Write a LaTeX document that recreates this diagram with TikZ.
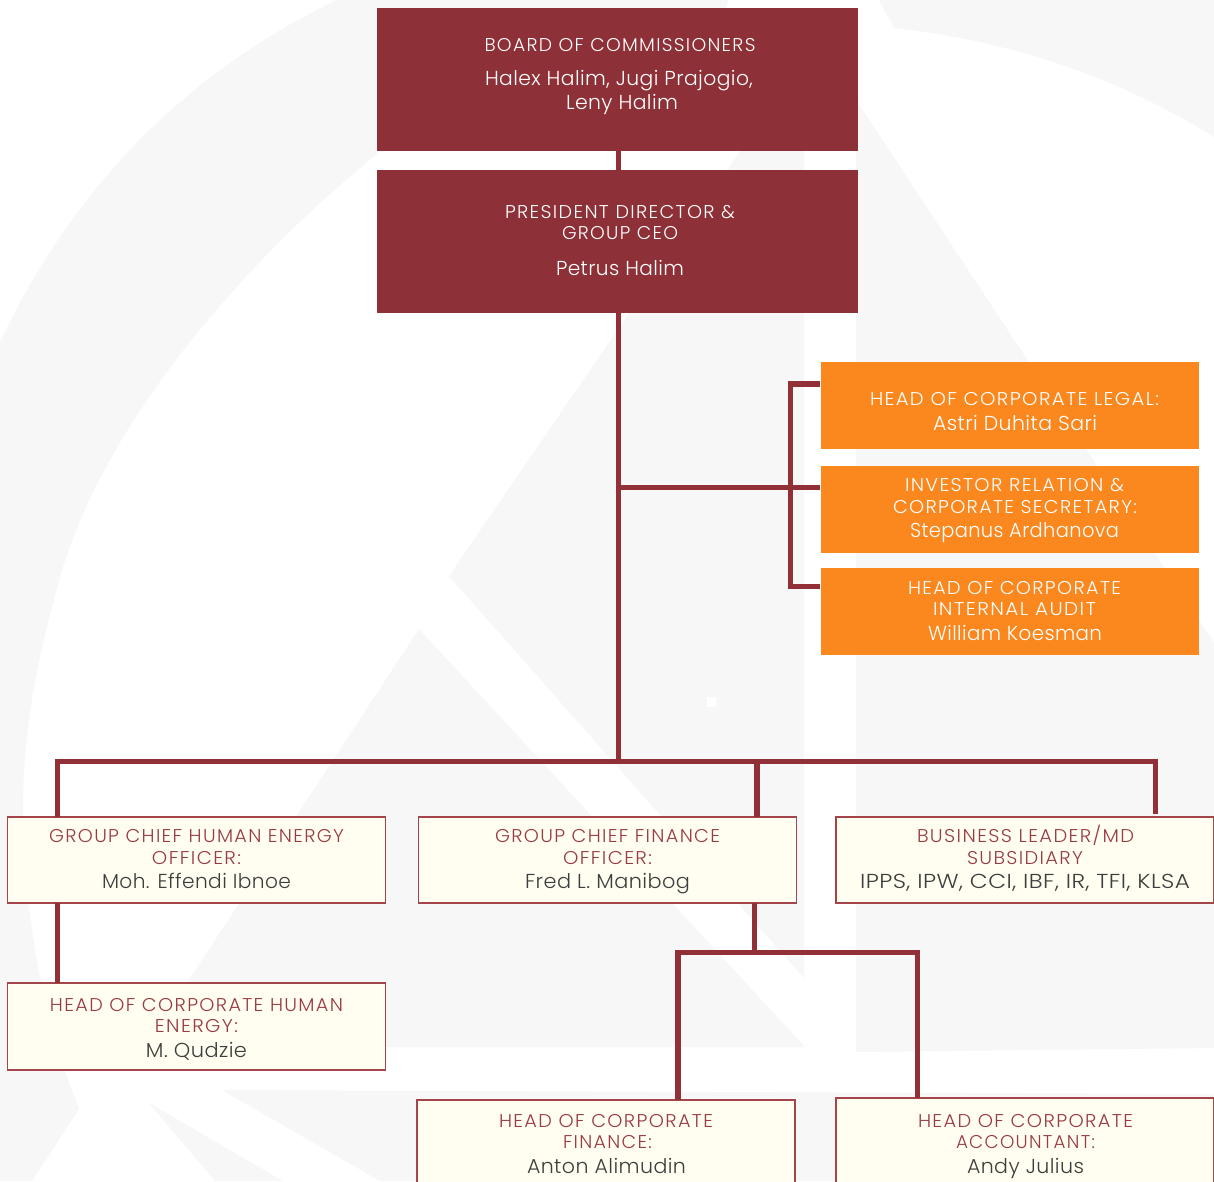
\documentclass[tikz,border=0pt]{standalone}
\usepackage{fontspec}
\usepackage{graphicx}
\setmainfont{Poppins}[UprightFont=* Light,LetterSpace=2]
\newfontfamily\ttlfont{Poppins}[UprightFont=* Light,LetterSpace=7]
\usetikzlibrary{calc}
\definecolor{bggray}{HTML}{F7F7F7}
\definecolor{wine}{HTML}{8E3037}
\definecolor{linewine}{HTML}{923038}
\definecolor{amber}{HTML}{FB881F}
\definecolor{creamfill}{HTML}{FFFEF0}
\definecolor{creamedge}{HTML}{A4454C}
\definecolor{titlered}{HTML}{9A3A42}
\definecolor{namegray}{HTML}{3E3E3E}
\newlength\bxw
% baseline step, centre offset, target width, text
\newcommand\lin[4]{\vbox to #1pt{\vss\hbox to \bxw{\hss\kern #2pt\kern #2pt\smash{\resizebox{#3pt}{\height}{#4}}\hss}}\nointerlineskip}
\newcommand\tl[4]{\lin{#1}{#2}{#3}{\fontsize{18.5}{20}\ttlfont #4}}
\newcommand\tlc[4]{\lin{#1}{#2}{#3}{\fontsize{18.5}{20}\ttlfont\color{titlered}#4}}
\newcommand\nm[4]{\lin{#1}{#2}{#3}{\fontsize{20.2}{22}\selectfont #4}}
\newcommand\orgbox[7]{\node[#2,anchor=north west] (#1) at (#3,#4) {\setlength\bxw{#5pt}\vbox to #6pt{#7\vss}};}
\tikzset{
  wbox/.style={fill=wine,text=white,inner sep=0pt,outer sep=0pt},
  obox/.style={fill=amber,text=white,inner sep=0pt,outer sep=0pt},
  cbox/.style={fill=creamfill,draw=creamedge,line width=1.3pt,text=namegray,inner sep=0pt,outer sep=0pt},
  conn/.style={draw=linewine,line width=5.4pt,line cap=butt,line join=miter},
  bgshape/.style={fill=bggray,draw=none}
}
\begin{document}
\begin{tikzpicture}[x=1pt,y=-1pt]
\useasboundingbox (0,0) rectangle (1214,1181);
\clip (0,0) rectangle (1214,1181);
\fill[white] (0,0) rectangle (1214,1181);
% background watermark
\fill[bgshape] (0,1181) -- (0,342) .. controls (65,205) and (170,80) .. (337,0) -- (728,0) -- (724,20) -- (380,140) -- (377,154) .. controls (265,244) and (95,420) .. (54,600) .. controls (35,668) and (23,740) .. (23,804) .. controls (23,900) and (40,1000) .. (65,1072) -- (79,1109) -- (32,1181) -- cycle;
\fill[bgshape] (879,0) -- (894,28) .. controls (1005,40) and (1115,75) .. (1214,137) -- (1214,0) -- cycle;
\fill[bgshape] (804,58) -- (449,576) -- (804,978) -- cycle;
\fill[bgshape] (419,629) -- (805,1047) -- (145,1047) -- cycle;
\fill[bgshape] (856,100) -- (1214,643) -- (1214,1048) -- (856,1052) -- cycle;
\fill[bgshape] (222,1090) -- (1214,1094) -- (1214,1181) -- (380,1181) -- cycle;
\fill[bgshape] (149,1103) -- (215,1181) -- (283,1181) -- cycle;
\fill[white] (707,697) rectangle (716,707);
% boxes
\orgbox{board}{wbox}{377}{8}{481}{143}{\tl{43.5}{2.5}{271}{BOARD OF COMMISSIONERS}\nm{33.5}{1.5}{268}{Halex Halim, Jugi Prajogio,}\nm{24}{4.5}{112}{Leny Halim}}
\orgbox{pres}{wbox}{377}{170}{481}{143}{\tl{48}{2.5}{230}{PRESIDENT DIRECTOR \&}\tl{21.5}{2.5}{116}{GROUP CEO}\nm{36}{2.5}{128}{Petrus Halim}}
\orgbox{legal}{obox}{821}{362}{378}{87}{\tl{43}{4.5}{289}{HEAD OF CORPORATE LEGAL:}\nm{25}{5}{164}{Astri Duhita Sari}}
\orgbox{investor}{obox}{821}{466}{378}{87}{\tl{25.5}{4.5}{219}{INVESTOR RELATION \&}\tl{22}{5}{244}{CORPORATE SECRETARY:}\nm{24}{4.5}{209}{Stepanus Ardhanova}}
\orgbox{audit}{obox}{821}{568}{378}{87}{\tl{26}{4.5}{213}{HEAD OF CORPORATE}\tl{21}{4.5}{163}{INTERNAL AUDIT}\nm{25}{5}{174}{William Koesman}}
\orgbox{chro}{cbox}{7.5}{817}{378}{86}{\tlc{25}{0}{295}{GROUP CHIEF HUMAN ENERGY}\tlc{22}{0}{89}{OFFICER:}\nm{24}{0}{189}{Moh. Effendi Ibnoe}}
\orgbox{cfo}{cbox}{418.5}{817}{378}{86}{\tlc{25}{0}{225}{GROUP CHIEF FINANCE}\tlc{22}{0}{89}{OFFICER:}\nm{24}{0}{165}{Fred L. Manibog}}
\orgbox{bl}{cbox}{836}{817}{378}{86}{\tlc{25}{0.5}{217}{BUSINESS LEADER/MD}\tlc{22}{0}{116}{SUBSIDIARY}\nm{24}{0}{330}{IPPS, IPW, CCI, IBF, IR, TFI, KLSA}}
\orgbox{hrhead}{cbox}{7.5}{983}{378}{87}{\tlc{28}{0}{293}{HEAD OF CORPORATE HUMAN}\tlc{21}{0}{83}{ENERGY:}\nm{25}{0}{101}{M. Qudzie}}
\orgbox{fin}{cbox}{417}{1100}{378}{86}{\tlc{27}{0}{214}{HEAD OF CORPORATE}\tlc{21}{1.5}{89}{FINANCE:}\nm{25}{0.5}{159}{Anton Alimudin}}
\orgbox{acc}{cbox}{836}{1098}{378}{88}{\tlc{29}{0.5}{215}{HEAD OF CORPORATE}\tlc{21}{0.5}{139}{ACCOUNTANT:}\nm{25}{0.5}{117}{Andy Julius}}
% junctions
\coordinate (trunk) at (618.3,761.5);
\coordinate (staffj) at (618.3,487.5);
\coordinate (brtop) at (790.5,384);
\coordinate (brmid) at (790.5,487.5);
\coordinate (brbot) at (790.5,586.5);
\coordinate (left) at (57.5,761.5);
\coordinate (mid) at (757,761.5);
\coordinate (right) at (1155.5,761.5);
\coordinate (finj) at (754.5,952.7);
\coordinate (finl) at (678,952.7);
\coordinate (finr) at (917.5,952.7);
% connectors
\draw[conn] (board.south -| trunk) -- (pres.north -| trunk);
\draw[conn] (pres.south -| trunk) -- (trunk);
\draw[conn] (staffj) -- ($(investor.west |- staffj)+(-1,0)$);
\draw[conn] ($(legal.west |- brtop)+(-1,0)$) -- (brtop) -- (brbot) -- ($(audit.west |- brbot)+(-1,0)$);
\draw[conn] (chro.north -| left) -- (left) -- (right) -- ($(bl.north -| right)+(0,-3)$);
\draw[conn] (mid) -- (cfo.north -| mid);
\draw[conn] (chro.south -| left) -- (hrhead.north -| left);
\draw[conn] (cfo.south -| finj) -- (finj);
\draw[conn] (fin.north -| finl) -- (finl) -- (finr) -- (acc.north -| finr);
\end{tikzpicture}
\end{document}
